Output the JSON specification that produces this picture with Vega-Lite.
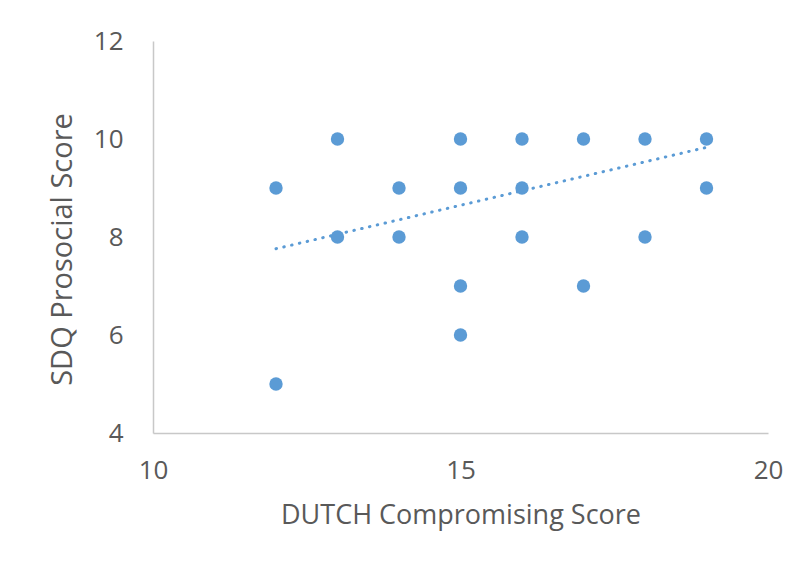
{
  "$schema": "https://vega.github.io/schema/vega-lite/v6.json",
  "width": 615,
  "height": 392,
  "autosize": {"type": "none"},
  "padding": {"left": 153, "top": 41, "right": 36, "bottom": 136},
  "background": "white",
  "config": {
    "view": {"stroke": null},
    "font": "Open Sans",
    "axis": {
      "grid": false,
      "ticks": false,
      "labelFlush": false,
      "domainColor": "#C8C8C8",
      "domainWidth": 1.5,
      "labelColor": "#595959",
      "titleColor": "#595959",
      "labelFont": "Open Sans",
      "titleFont": "Open Sans",
      "labelFontSize": 26,
      "titleFontSize": 27,
      "titleFontWeight": "normal"
    }
  },
  "datasets": {
    "points": [
      {"compromising": 12, "prosocial": 9},
      {"compromising": 12, "prosocial": 5},
      {"compromising": 13, "prosocial": 10},
      {"compromising": 13, "prosocial": 8},
      {"compromising": 14, "prosocial": 9},
      {"compromising": 14, "prosocial": 8},
      {"compromising": 15, "prosocial": 10},
      {"compromising": 15, "prosocial": 9},
      {"compromising": 15, "prosocial": 7},
      {"compromising": 15, "prosocial": 6},
      {"compromising": 16, "prosocial": 10},
      {"compromising": 16, "prosocial": 9},
      {"compromising": 16, "prosocial": 8},
      {"compromising": 17, "prosocial": 10},
      {"compromising": 17, "prosocial": 7},
      {"compromising": 18, "prosocial": 10},
      {"compromising": 18, "prosocial": 8},
      {"compromising": 19, "prosocial": 10},
      {"compromising": 19, "prosocial": 9}
    ],
    "trend": [
      {"compromising": 12, "prosocial": 7.76},
      {"compromising": 19, "prosocial": 9.83}
    ]
  },
  "layer": [
    {
      "data": {"name": "trend"},
      "mark": {"type": "line", "color": "#5B9BD5", "strokeWidth": 3, "strokeDash": [0.5, 7.5], "strokeCap": "round"},
      "encoding": {
        "x": {"field": "compromising", "type": "quantitative"},
        "y": {"field": "prosocial", "type": "quantitative"}
      }
    },
    {
      "data": {"name": "points"},
      "mark": {"type": "circle", "color": "#5B9BD5", "opacity": 1, "size": 180},
      "encoding": {
        "x": {
          "field": "compromising",
          "type": "quantitative",
          "scale": {"domain": [10, 20], "nice": false, "zero": false},
          "axis": {"values": [10, 15, 20], "format": "d", "title": "DUTCH Compromising Score", "labelPadding": 24, "titlePadding": 19}
        },
        "y": {
          "field": "prosocial",
          "type": "quantitative",
          "scale": {"domain": [4, 12], "nice": false, "zero": false},
          "axis": {"values": [4, 6, 8, 10, 12], "format": "d", "title": "SDQ Prosocial Score", "titleFontSize": 29, "titleY": 208, "labelPadding": 30, "titlePadding": 16}
        }
      }
    }
  ]
}
